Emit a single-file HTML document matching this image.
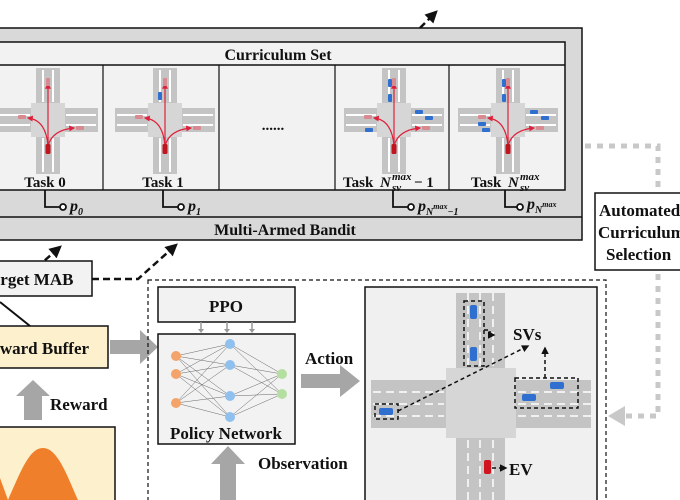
<!DOCTYPE html>
<html><head><meta charset="utf-8"><style>
body{margin:0;background:#fff}
svg{display:block}
text{font-family:"Liberation Serif",serif;font-weight:bold;fill:#111}
</style></head><body>
<svg width="680" height="500" viewBox="0 0 680 500" xmlns="http://www.w3.org/2000/svg">
<defs>
<marker id="ah" viewBox="0 0 10 10" refX="8" refY="5" markerWidth="5" markerHeight="5" orient="auto"><path d="M0,0L10,5L0,10z" fill="#111"/></marker>
<marker id="rh" viewBox="0 0 10 10" refX="8" refY="5" markerWidth="5" markerHeight="5" orient="auto"><path d="M0,0L10,5L0,10z" fill="#e0203a"/></marker>
<g id="isec">
<rect x="-12" y="-52" width="24" height="106" fill="#c4c4c4"/>
<rect x="-50" y="-12" width="100" height="24" fill="#c4c4c4"/>
<rect x="-17" y="-17" width="34" height="34" fill="#d6d6d6"/>
<path d="M-5,-50V-18M5,-50V-18M-5,18V52M5,18V52M-48,-5H-18M-48,5H-18M18,-5H48M18,5H48" stroke="#fff" stroke-width="2"/>
<path d="M0,26V-36" stroke="#e0203a" stroke-width="1.2" fill="none" marker-end="url(#rh)"/>
<path d="M0,26Q-2,0-20,-2" stroke="#e0203a" stroke-width="1.2" fill="none" marker-end="url(#rh)"/>
<path d="M0,26Q4,10 26,8" stroke="#e0203a" stroke-width="1.2" fill="none" marker-end="url(#rh)"/>
<rect x="-2.5" y="24" width="5" height="10" rx="1.5" fill="#c0141e"/>
<rect x="-2" y="-42" width="4" height="8" rx="1" fill="#d88a90"/>
<rect x="-30" y="-5" width="8" height="4" rx="1" fill="#d88a90"/>
<rect x="28" y="6" width="8" height="4" rx="1" fill="#d88a90"/>
</g>
</defs>
<rect x="-5" y="28" width="587" height="212" fill="#d9d9d9" stroke="#111" stroke-width="1.5"/>
<rect x="-5" y="42" width="570" height="148" fill="#f2f2f2" stroke="#111" stroke-width="1.5"/>
<line x1="-5" y1="65" x2="565" y2="65" stroke="#111" stroke-width="1.5"/>
<line x1="-5" y1="217" x2="582" y2="217" stroke="#111" stroke-width="1.5"/>
<g stroke="#111" stroke-width="1.2"><line x1="103" y1="65" x2="103" y2="190"/><line x1="219" y1="65" x2="219" y2="190"/><line x1="335" y1="65" x2="335" y2="190"/><line x1="449" y1="65" x2="449" y2="190"/></g>
<text x="278" y="60" font-size="16" text-anchor="middle">Curriculum Set</text>
<text x="285" y="235" font-size="16" text-anchor="middle">Multi-Armed Bandit</text>
<use href="#isec" x="48" y="120"/>
<use href="#isec" x="165" y="120"/>
<use href="#isec" x="394" y="120"/>
<use href="#isec" x="508" y="120"/>
<g fill="#2f6fd0"><rect x="158" y="92" width="4" height="8" rx="1"/>
<rect x="388" y="79" width="4" height="8" rx="1"/><rect x="388" y="94" width="4" height="8" rx="1"/><rect x="415" y="110" width="8" height="4" rx="1"/><rect x="425" y="116" width="8" height="4" rx="1"/><rect x="365" y="128" width="8" height="4" rx="1"/>
<rect x="502" y="79" width="4" height="8" rx="1"/><rect x="502" y="94" width="4" height="8" rx="1"/><rect x="530" y="110" width="8" height="4" rx="1"/><rect x="541" y="116" width="8" height="4" rx="1"/><rect x="478" y="122" width="8" height="4" rx="1"/><rect x="482" y="128" width="8" height="4" rx="1"/></g>
<text x="45" y="187" font-size="15" text-anchor="middle">Task 0</text>
<text x="163" y="187" font-size="15" text-anchor="middle">Task 1</text>
<text x="273" y="130" font-size="15" text-anchor="middle">......</text>
<text x="343" y="187" font-size="15">Task</text>
<text x="380" y="187" font-size="15" font-weight="normal" font-style="italic">N</text>
<text x="392" y="180" font-size="11" font-weight="normal" font-style="italic">max</text>
<text x="392" y="191" font-size="11" font-weight="normal" font-style="italic">sv</text>
<text x="414" y="187" font-size="15" font-weight="normal">− 1</text>
<text x="471" y="187" font-size="15">Task</text>
<text x="508" y="187" font-size="15" font-weight="normal" font-style="italic">N</text>
<text x="520" y="180" font-size="11" font-weight="normal" font-style="italic">max</text>
<text x="520" y="191" font-size="11" font-weight="normal" font-style="italic">sv</text>
<g stroke="#111" stroke-width="1.8" fill="#fff">
<path d="M45,190V207H60" fill="none"/><circle cx="63" cy="207" r="3"/>
<path d="M163,190V207H178" fill="none"/><circle cx="181" cy="207" r="3"/>
<path d="M393,190V207H408" fill="none"/><circle cx="411" cy="207" r="3"/>
<path d="M505,190V207H517" fill="none"/><circle cx="520" cy="207" r="3"/>
</g>
<text x="70" y="211" font-size="16" font-weight="normal" font-style="italic">p<tspan font-size="10" dy="4">0</tspan></text>
<text x="188" y="211" font-size="16" font-weight="normal" font-style="italic">p<tspan font-size="10" dy="4">1</tspan></text>
<text x="418" y="211" font-size="16" font-weight="normal" font-style="italic">p<tspan font-size="10" dy="4">N</tspan><tspan font-size="8" dy="-6">max</tspan><tspan font-size="10" dy="6">−1</tspan></text>
<text x="527" y="209" font-size="16" font-weight="normal" font-style="italic">p<tspan font-size="10" dy="4">N</tspan><tspan font-size="8" dy="-6">max</tspan></text>
<g stroke="#111" stroke-width="2.5" stroke-dasharray="7,4" fill="none">
<path d="M420,28L436,12" marker-end="url(#ah)"/>
<path d="M92,279H138L176,245" marker-end="url(#ah)"/>
<path d="M20,282L60,247" marker-end="url(#ah)"/>
</g>
<g stroke="#c8c8c8" stroke-width="5" stroke-dasharray="6,6" fill="none">
<path d="M585,146H658V190"/>
<path d="M658,274V416H625"/>
</g>
<path d="M608,416L625,406V426z" fill="#c8c8c8"/>
<rect x="595" y="193" width="100" height="77" fill="#fff" stroke="#111" stroke-width="1.5"/>
<text x="599" y="216" font-size="17">Automated</text>
<text x="598" y="238" font-size="17">Curriculum</text>
<text x="606" y="260" font-size="17">Selection</text>
<rect x="-5" y="261" width="97" height="35" fill="#f2f2f2" stroke="#111" stroke-width="1.5"/>
<text x="-18" y="285" font-size="17">Target MAB</text>
<line x1="0" y1="302" x2="30" y2="326" stroke="#111" stroke-width="2"/>
<rect x="-5" y="326" width="113" height="42" fill="#fdf0cc" stroke="#111" stroke-width="1.5"/>
<text x="-20" y="354" font-size="17">Reward Buffer</text>
<path d="M110,340H140V330L158,347L140,364V354H110z" fill="#a6a6a6"/>
<path d="M24,420V396H16L33,380L50,396H42V420z" fill="#a6a6a6"/>
<text x="50" y="410" font-size="17">Reward</text>
<rect x="-5" y="427" width="120" height="80" fill="#fdf0cc" stroke="#111" stroke-width="1.5"/>
<path d="M8,500C22,468 30,448 43,448C58,448 68,478 78,500z" fill="#ef7f2a"/>
<path d="M0,478L8,500H0z" fill="#ef7f2a"/>
<rect x="148" y="280" width="458" height="230" fill="none" stroke="#111" stroke-width="1.2" stroke-dasharray="4,3"/>
<rect x="158" y="287" width="137" height="35" fill="#f2f2f2" stroke="#111" stroke-width="1.5"/>
<text x="226" y="312" font-size="17" text-anchor="middle">PPO</text>
<g stroke="#999" stroke-width="1.5" fill="#999"><path d="M201,322V330M227,322V330M252,322V330"/><path d="M198,329h6l-3,4z M224,329h6l-3,4z M249,329h6l-3,4z" stroke="none"/></g>
<rect x="158" y="334" width="137" height="110" fill="#f2f2f2" stroke="#111" stroke-width="1.5"/>
<g stroke="#666" stroke-width="0.5">
<path d="M176,356L230,344M176,356L230,365M176,356L230,396M176,356L230,417M176,374L230,344M176,374L230,365M176,374L230,396M176,374L230,417M176,403L230,344M176,403L230,365M176,403L230,396M176,403L230,417M230,344L282,374M230,344L282,394M230,365L282,374M230,365L282,394M230,396L282,374M230,396L282,394M230,417L282,374M230,417L282,394"/>
</g>
<g fill="#f4a36a"><circle cx="176" cy="356" r="5"/><circle cx="176" cy="374" r="5"/><circle cx="176" cy="403" r="5"/></g>
<g fill="#8fc0ee"><circle cx="230" cy="344" r="5"/><circle cx="230" cy="365" r="5"/><circle cx="230" cy="396" r="5"/><circle cx="230" cy="417" r="5"/></g>
<g fill="#b5dfa0"><circle cx="282" cy="374" r="5"/><circle cx="282" cy="394" r="5"/></g>
<text x="226" y="439" font-size="17" text-anchor="middle">Policy Network</text>
<text x="305" y="364" font-size="17">Action</text>
<path d="M301,374H340V365L360,381L340,397V388H301z" fill="#a6a6a6"/>
<path d="M220,500V464H211L228,446L245,464H236V500z" fill="#a6a6a6"/>
<text x="258" y="469" font-size="17">Observation</text>
<rect x="365" y="287" width="232" height="220" fill="#f0f0f0" stroke="#111" stroke-width="1.5"/>
<rect x="456" y="293" width="49" height="210" fill="#c4c4c4"/>
<rect x="371" y="380" width="220" height="48" fill="#c4c4c4"/>
<rect x="446" y="368" width="70" height="70" fill="#d6d6d6"/>
<g stroke="#fff" stroke-width="1.5" stroke-dasharray="8,5"><path d="M468,293V366M480,293V366M493,293V366M468,440V500M480,440V500M493,440V500M373,392H444M373,404H444M373,416H444M518,392H591M518,404H591M518,416H591"/></g>
<g fill="#2f6fd0"><rect x="470" y="305" width="7" height="14" rx="2"/><rect x="470" y="347" width="7" height="14" rx="2"/><rect x="550" y="382" width="14" height="7" rx="2"/><rect x="522" y="394" width="14" height="7" rx="2"/><rect x="379" y="408" width="14" height="7" rx="2"/></g>
<rect x="484" y="460" width="7" height="14" rx="2" fill="#d01420"/>
<g stroke="#111" stroke-width="1.5" stroke-dasharray="4,3" fill="none">
<rect x="464" y="301" width="20" height="65"/>
<rect x="515" y="378" width="63" height="30"/>
<rect x="375" y="404" width="23" height="15"/>
<path d="M484,330H490V335H494" marker-end="url(#ah)"/>
<path d="M398,411L528,346" marker-end="url(#ah)"/>
<path d="M545,378V348" marker-end="url(#ah)"/>
<path d="M492,468H506" marker-end="url(#ah)"/>
</g>
<text x="513" y="340" font-size="17" font-weight="normal">SVs</text>
<text x="509" y="475" font-size="17" font-weight="normal">EV</text>
</svg>
</body></html>
